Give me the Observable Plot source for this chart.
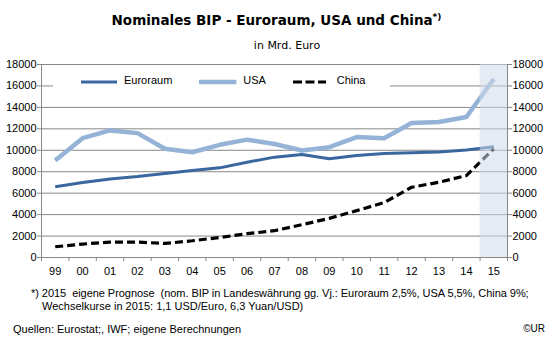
<!DOCTYPE html>
<html>
<head>
<meta charset="utf-8">
<script src="https://cdn.jsdelivr.net/npm/d3@7"></script>
<script src="https://cdn.jsdelivr.net/npm/@observablehq/plot@0.6"></script>
<style>
  html, body { margin: 0; padding: 0; background: #fff; }
  #wrap { position: relative; width: 548px; height: 338px; overflow: hidden; font-family: "Liberation Sans", Arial, sans-serif; color: #000; }
  #chart { position: absolute; left: 0; top: 0; }
  .abs { position: absolute; white-space: nowrap; }
  #title { left: 0; width: 553px; top: 12px; text-align: center; font-family: "DejaVu Sans", Verdana, sans-serif; font-weight: bold; font-size: 13.5px; }
  #title sup { font-size: 9px; vertical-align: 5px; line-height: 0; }
  #subtitle { left: 0; width: 574px; top: 39px; text-align: center; font-family: "DejaVu Sans", Verdana, sans-serif; font-size: 11px; }
  #legend { left: 53px; top: 72px; width: 337px; height: 20px; background: #fff; }
  .lab { position: absolute; font-size: 11px; top: 2px; }
  .foot { font-size: 11px; }
</style>
</head>
<body>
<div id="wrap">
  <div id="chart"></div>
  <div id="title" class="abs">Nominales BIP - Euroraum, USA und China<sup>*)</sup></div>
  <div id="subtitle" class="abs">in Mrd. Euro</div>
  <div id="legend" class="abs"></div>
  <div id="foot1" class="abs foot" style="left:31px; top:287px; letter-spacing:-0.05px;">*) 2015&nbsp; eigene Prognose&nbsp; (nom. BIP in Landeswährung gg. Vj.: Euroraum 2,5%, USA 5,5%, China 9%;</div>
  <div id="foot2" class="abs foot" style="left:42px; top:300px;">Wechselkurse in 2015: 1,1 USD/Euro, 6,3 Yuan/USD)</div>
  <div id="src" class="abs foot" style="left:13px; top:323px;">Quellen: Eurostat;, IWF; eigene Berechnungen</div>
  <div id="copy" class="abs foot" style="right:3px; top:323px; font-size:10px;">©UR</div>
</div>
<script>
// ---- data ----
const years = ["99","00","01","02","03","04","05","06","07","08","09","10","11","12","13","14","15"];
const euro  = [6600, 7000, 7330, 7550, 7830, 8110, 8360, 8890, 9360, 9610, 9200, 9510, 9700, 9780, 9850, 10030, 10320];
const usa   = [9050, 11130, 11850, 11600, 10140, 9820, 10510, 10990, 10580, 9980, 10290, 11230, 11130, 12550, 12630, 13100, 16650];
const china = [1000, 1250, 1440, 1440, 1310, 1560, 1870, 2220, 2500, 3060, 3650, 4370, 5120, 6550, 7020, 7640, 10140];
const yTicks = [0, 2000, 4000, 6000, 8000, 10000, 12000, 14000, 16000, 18000];
const seriesNames = ["Euroraum", "USA", "China"];
const forecastYear = "15";

// ---- styles ----
const colors = {Euroraum: "#3a679e", USA: "#95b3d7", China: "#000000"};
const widths = {Euroraum: 3, USA: 4.5, China: 3.2};
const dashes = {Euroraum: null, USA: null, China: "8,4"};
const gridColor = "#878787";

const seriesValues = {Euroraum: euro, USA: usa, China: china};
const rows = seriesNames.flatMap(s => years.map((y, i) => ({series: s, i, year: y, value: seriesValues[s][i]})));
const fIdx = years.indexOf(forecastYear);
const n = years.length;

const lineMarks = seriesNames.map(s => Plot.line(rows.filter(r => r.series === s), {
  x: d => d.i + 0.5, y: "value",
  stroke: colors[s], strokeWidth: widths[s], strokeDasharray: dashes[s],
  strokeLinejoin: "round", strokeLinecap: "butt"
}));

const chart = Plot.plot({
  width: 548, height: 338,
  marginLeft: 41, marginRight: 41, marginTop: 64, marginBottom: 81,
  x: {domain: [0, n]},
  y: {domain: [0, 18000]},
  style: {fontFamily: "'Liberation Sans', Arial, sans-serif", fontSize: "11px", color: "#000", background: "transparent"},
  marks: [
    Plot.ruleY(yTicks, {stroke: gridColor, strokeWidth: 1}),
    Plot.ruleX([0, n], {stroke: gridColor, strokeWidth: 1}),
    ...lineMarks,
    Plot.rect([fIdx], {x1: d => d, x2: d => d + 1, y1: 0, y2: 18000, fill: "#d0dbe9", fillOpacity: 0.55}),
    Plot.axisY({anchor: "left", ticks: yTicks, tickSize: 4, tickPadding: 1, tickFormat: d => String(d), stroke: gridColor, fill: "#000", label: null}),
    Plot.axisY({anchor: "right", ticks: yTicks, tickSize: 4, tickPadding: 1, tickFormat: d => String(d), stroke: gridColor, fill: "#000", label: null}),
    Plot.axisX({anchor: "bottom", ticks: d3.range(0, n + 1), tickSize: 4, tickFormat: () => "", stroke: gridColor, label: null}),
    Plot.axisX({anchor: "bottom", ticks: years.map((y, i) => i + 0.5), tickSize: 0, tickPadding: 10, tickFormat: v => years[Math.round(v - 0.5)], fill: "#000", label: null})
  ]
});
document.getElementById("chart").appendChild(chart);

// ---- legend (HTML) ----
const legend = document.getElementById("legend");
const legendItems = [
  {name: "Euroraum", x0: 27.7, w: 36, tx: 71},
  {name: "USA", x0: 146.3, w: 37.4, tx: 190.3},
  {name: "China", x0: 239.7, w: 33, tx: 283.7}
];
legendItems.forEach(it => {
  const svgNS = "http://www.w3.org/2000/svg";
  const sv = document.createElementNS(svgNS, "svg");
  sv.setAttribute("width", it.w); sv.setAttribute("height", 10);
  sv.style.position = "absolute"; sv.style.left = it.x0 + "px"; sv.style.top = "5px";
  const ln = document.createElementNS(svgNS, "line");
  ln.setAttribute("x1", 0); ln.setAttribute("x2", it.w); ln.setAttribute("y1", 5); ln.setAttribute("y2", 5);
  ln.setAttribute("stroke", colors[it.name]); ln.setAttribute("stroke-width", widths[it.name]);
  if (dashes[it.name]) ln.setAttribute("stroke-dasharray", "9,3.5");
  sv.appendChild(ln); legend.appendChild(sv);
  const t = document.createElement("div");
  t.className = "lab"; t.style.left = it.tx + "px"; t.textContent = it.name;
  legend.appendChild(t);
});
</script>
</body>
</html>
